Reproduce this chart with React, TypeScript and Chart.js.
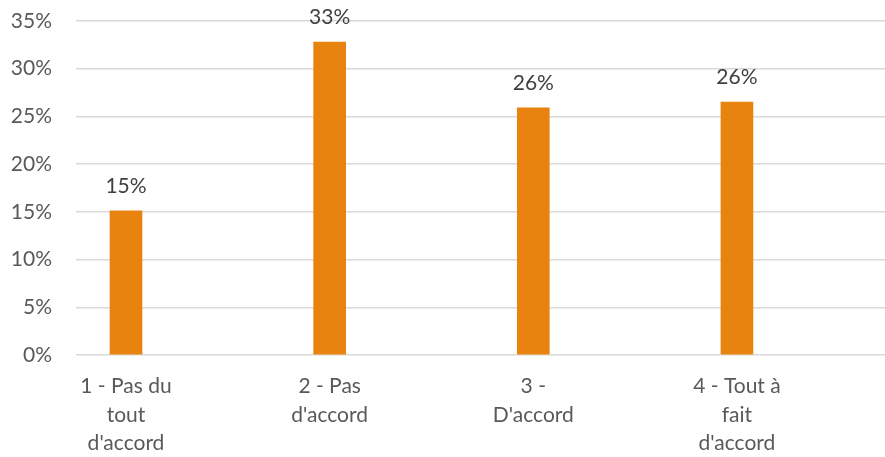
import React, { useEffect, useRef } from "react";
import { Chart, registerables } from "chart.js";

Chart.register(...registerables);

const categories: string[][] = [
  ["1 - Pas du", "tout", "d'accord"],
  ["2 - Pas", "d'accord"],
  ["3 -", "D'accord"],
  ["4 - Tout à", "fait", "d'accord"],
];
const values: number[] = [15.1, 32.8, 25.9, 26.5];
const valueLabels: string[] = ["15%", "33%", "26%", "26%"];
const yTicks: number[] = [0, 5, 10, 15, 20, 25, 30, 35];

const FONT = "Lato, 'Open Sans', sans-serif";

const dataLabelPlugin = {
  id: "dataLabels",
  afterDatasetsDraw(chart: any) {
    const ctx = chart.ctx;
    const meta = chart.getDatasetMeta(0);
    ctx.save();
    ctx.font = `21px ${FONT}`;
    ctx.fillStyle = "#404040";
    ctx.textAlign = "center";
    ctx.textBaseline = "middle";
    meta.data.forEach((el: any, i: number) => {
      ctx.fillText(valueLabels[i], el.x, el.y - 25);
    });
    ctx.restore();
  },
};

export default function App() {
  const ref = useRef<HTMLCanvasElement>(null);
  useEffect(() => {
    document.body.style.margin = "0";
    const chart = new Chart(ref.current!, {
      type: "bar",
      data: {
        datasets: [
          {
            data: values.map((v, i) => ({ x: i, y: v })),
            backgroundColor: "#E8830F",
            barThickness: 32,
          },
        ],
      },
      options: {
        animation: false,
        responsive: false,
        maintainAspectRatio: false,
        layout: { padding: { top: 21, right: 0, left: 0, bottom: 0 } },
        plugins: { legend: { display: false }, tooltip: { enabled: false } },
        scales: {
          x: {
            type: "linear",
            offset: false,
            min: -0.2455,
            max: 3.727,
            grid: { display: false },
            border: { display: false },
            afterBuildTicks: (scale: any) => {
              scale.ticks = categories.map((_, i) => ({ value: i }));
            },
            afterFit: (scale: any) => {
              scale.height = 102;
              scale.paddingLeft = 0;
              scale.paddingRight = 0;
              scale.paddingTop = 0;
              scale.paddingBottom = 0;
            },
            ticks: {
              autoSkip: false,
              maxRotation: 0,
              padding: 9,
              color: "#595959",
              font: { family: FONT, size: 21, lineHeight: 1.36 },
              callback: (v: any) => categories[Math.round(Number(v))] ?? "",
            },
          },
          y: {
            min: 0,
            max: 35,
            afterBuildTicks: (scale: any) => {
              scale.ticks = yTicks.map((v) => ({ value: v }));
            },
            afterFit: (scale: any) => {
              scale.width = 76;
              scale.paddingTop = 0;
              scale.paddingBottom = 0;
              scale.paddingLeft = 0;
              scale.paddingRight = 0;
            },
            grid: { color: "#D9D9D9", lineWidth: 1.5, drawTicks: false },
            border: { display: false },
            ticks: {
              padding: 24,
              color: "#595959",
              font: { family: FONT, size: 21 },
              callback: (v: any) => `${v}%`,
            },
          },
        },
      },
      plugins: [dataLabelPlugin],
    });
    return () => chart.destroy();
  }, []);
  return (
    <div style={{ position: "absolute", left: 0, top: 0, width: 885, height: 457, background: "#fff" }}>
      <canvas ref={ref} width={885} height={457} style={{ width: 885, height: 457 }} />
    </div>
  );
}
